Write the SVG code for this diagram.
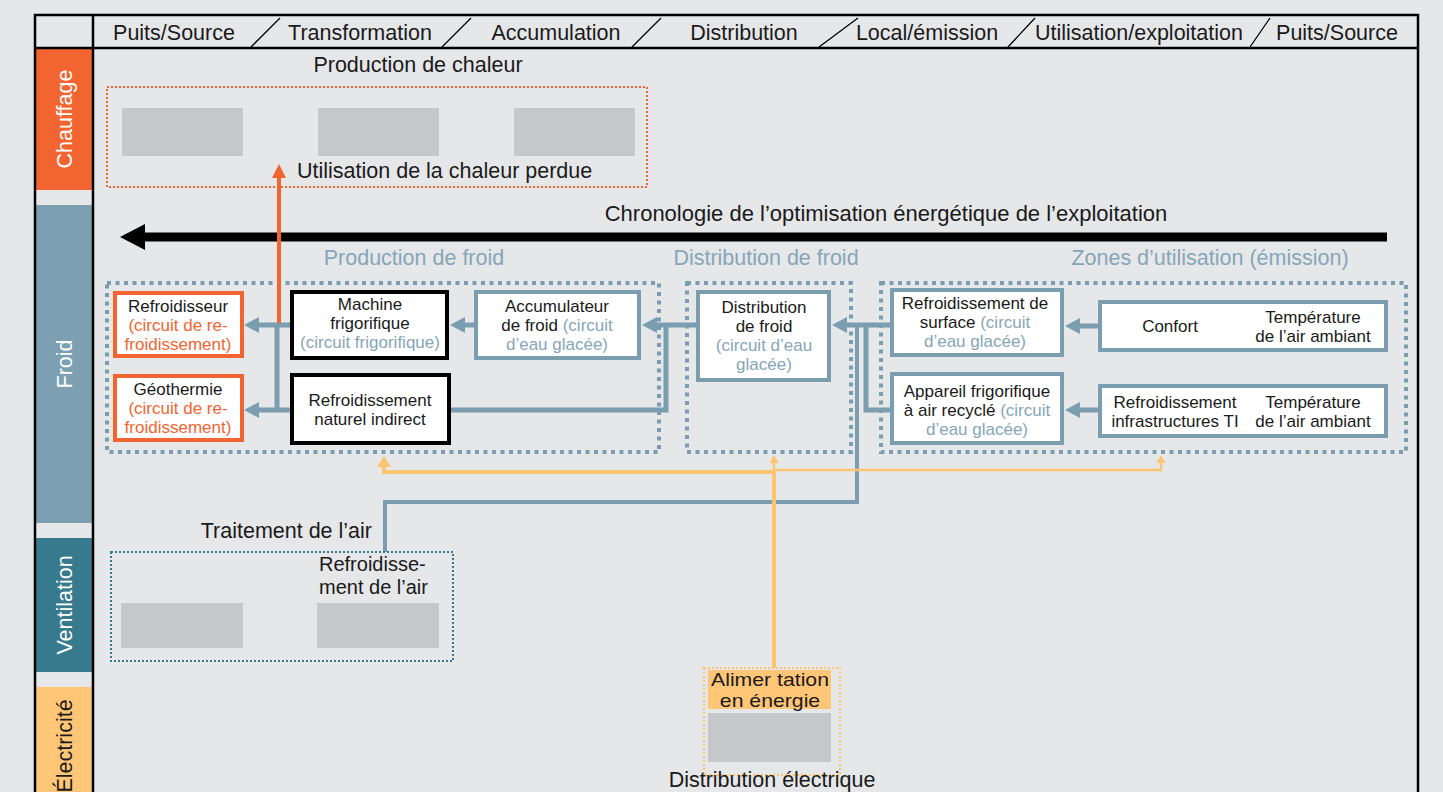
<svg xmlns="http://www.w3.org/2000/svg" width="1443" height="792" viewBox="0 0 1443 792">
<defs>
<style>
text{font-family:"Liberation Sans",Arial,sans-serif;fill:#1a1a1a}
.h{font-size:21.5px;text-anchor:middle}
.t{font-size:21.5px}
.n{font-size:17px;text-anchor:middle}
.b{fill:#86a6b8}
.o{fill:#f26531}
.side{font-size:21.5px;text-anchor:middle;fill:#ffffff}
.grp{fill:none;stroke:#7a9db0;stroke-width:4;stroke-dasharray:4 4.5}
.gr{fill:#c6c7c9}
.nb{fill:#ffffff;stroke:#7a9db0;stroke-width:4}
.no{fill:#ffffff;stroke:#f26531;stroke-width:4}
.nk{fill:#ffffff;stroke:#000000;stroke-width:4}
.c{fill:none;stroke:#7a9db0;stroke-width:5}
.cy{fill:none;stroke:#fdc571;stroke-width:4}
.cys{fill:none;stroke:#fdc571;stroke-width:2.5}
</style>
<marker id="mb" markerUnits="userSpaceOnUse" markerWidth="16" markerHeight="16" refX="0" refY="8" orient="auto"><path d="M0,0 L15,8 L0,16 Z" fill="#7a9db0"/></marker>
<marker id="mo" markerUnits="userSpaceOnUse" markerWidth="14" markerHeight="14" refX="0" refY="7" orient="auto"><path d="M0,0 L14,7 L0,14 Z" fill="#f26531"/></marker>
<marker id="my" markerUnits="userSpaceOnUse" markerWidth="14" markerHeight="14" refX="0" refY="7" orient="auto"><path d="M0,0 L11,7 L0,14 Z" fill="#fdc571"/></marker>
<marker id="mys" markerUnits="userSpaceOnUse" markerWidth="10" markerHeight="10" refX="0" refY="4.5" orient="auto"><path d="M0,0 L8,4.5 L0,9 Z" fill="#fdc571"/></marker>
</defs>
<rect x="0" y="0" width="1443" height="792" fill="#e6e7e9"/>

<g id="frame">
<rect x="36" y="49" width="56" height="141" fill="#f26531"/>
<rect x="36" y="205" width="56" height="318" fill="#7d9fb2"/>
<rect x="36" y="538" width="56" height="134" fill="#377a8e"/>
<rect x="36" y="687" width="56" height="110" fill="#fec676"/>
<path d="M35,800 V15 H1418 V800 M35,48 H1418 M93,15 V800" fill="none" stroke="#000" stroke-width="2.5"/>
<path d="M251,47 L280,18 M442,47 L471,18 M632,47 L661,18 M819,47 L858,18 M1008,47 L1035,18 M1250,47 L1270,18" fill="none" stroke="#000" stroke-width="1.3"/>
<text class="h" x="174" y="40">Puits/Source</text>
<text class="h" x="360" y="40">Transformation</text>
<text class="h" x="556" y="40">Accumulation</text>
<text class="h" x="744" y="40">Distribution</text>
<text class="h" x="927" y="40">Local/émission</text>
<text class="h" x="1139" y="40">Utilisation/exploitation</text>
<text class="h" x="1337" y="40">Puits/Source</text>
<text class="side" transform="translate(72,119) rotate(-90)">Chauffage</text>
<text class="side" transform="translate(72,364) rotate(-90)">Froid</text>
<text class="side" transform="translate(72,605) rotate(-90)">Ventilation</text>
<text class="side" style="fill:#1a1a1a" transform="translate(72,746) rotate(-90)">Électricité</text>
</g>

<g id="chauffage">
<text class="h" x="418" y="72">Production de chaleur</text>
<rect x="107" y="87" width="540" height="100" fill="none" stroke="#f26531" stroke-width="2" stroke-dasharray="2 2"/>
<rect class="gr" x="122" y="108" width="121" height="48"/>
<rect class="gr" x="318" y="108" width="121" height="48"/>
<rect class="gr" x="514" y="108" width="121" height="48"/>
<text class="t" x="297" y="178">Utilisation de la chaleur perdue</text>
</g>

<g id="chronologie">
<text class="h" x="886" y="221" style="font-size:22px">Chronologie de l’optimisation énergétique de l’exploitation</text>
<line x1="1387" y1="237" x2="140" y2="237" stroke="#000" stroke-width="9"/>
<polygon points="120,237 145,224 145,250" fill="#000"/>
</g>

<g id="groupes-froid">
<text class="h b" x="414" y="265">Production de froid</text>
<text class="h b" x="766" y="265">Distribution de froid</text>
<text class="h b" x="1210" y="265">Zones d’utilisation (émission)</text>
<rect class="grp" x="107" y="283" width="552" height="169"/>
<rect class="grp" x="687" y="283" width="164" height="169"/>
<rect class="grp" x="881" y="283" width="525" height="169"/>
</g>

<g id="connecteurs">
<path class="c" d="M476,325 H465" marker-end="url(#mb)"/>
<path class="c" d="M698,325 H657" marker-end="url(#mb)"/>
<path class="c" d="M666,325 V410 H449"/>
<path class="c" d="M292,325 H259" marker-end="url(#mb)"/>
<path class="c" d="M292,410 H259" marker-end="url(#mb)"/>
<path class="c" d="M277,325 V410"/>
<path class="c" d="M892,325 H847" marker-end="url(#mb)"/>
<path class="c" d="M866,325 V410 H892"/>
<path class="c" style="stroke-width:4" d="M857,325 V502 H385 V552"/>
<path class="c" d="M1100,326 H1080" marker-end="url(#mb)"/>
<path class="c" d="M1100,410 H1080" marker-end="url(#mb)"/>
<path fill="none" stroke="#f26531" stroke-width="4" d="M279,323 V178" marker-end="url(#mo)"/>
<path class="cy" d="M774,668 V472"/>
<path class="cys" d="M774,472 V463" marker-end="url(#mys)"/>
<path class="cy" d="M774,472 H384 V467" marker-end="url(#my)"/>
<path class="cys" d="M774,470 H1161 V463" marker-end="url(#mys)"/>
</g>

<g id="refroidisseur">
<rect class="no" x="115" y="293" width="127" height="63"/>
<text class="n" x="178" y="312">Refroidisseur</text>
<text class="n o" x="178" y="331">(circuit de re-</text>
<text class="n o" x="178" y="350">froidissement)</text>
</g>
<g id="geothermie">
<rect class="no" x="115" y="376" width="127" height="64"/>
<text class="n" x="178" y="395">Géothermie</text>
<text class="n o" x="178" y="414">(circuit de re-</text>
<text class="n o" x="178" y="433">froidissement)</text>
</g>
<g id="machine-frigorifique">
<rect class="nk" x="292" y="292" width="155" height="66"/>
<text class="n" x="370" y="310">Machine</text>
<text class="n" x="370" y="329">frigorifique</text>
<text class="n b" x="370" y="348">(circuit frigorifique)</text>
</g>
<g id="refroidissement-naturel">
<rect class="nk" x="292" y="375" width="157" height="68"/>
<text class="n" x="370" y="406">Refroidissement</text>
<text class="n" x="370" y="425">naturel indirect</text>
</g>
<g id="accumulateur">
<rect class="nb" x="476" y="292" width="163" height="66"/>
<text class="n" x="557" y="312">Accumulateur</text>
<text class="n" x="557" y="331">de froid <tspan class="b">(circuit</tspan></text>
<text class="n b" x="557" y="350">d’eau glacée)</text>
</g>
<g id="distribution-froid">
<rect class="nb" x="698" y="292" width="131" height="88"/>
<text class="n" x="764" y="313">Distribution</text>
<text class="n" x="764" y="332">de froid</text>
<text class="n b" x="764" y="351">(circuit d’eau</text>
<text class="n b" x="764" y="370">glacée)</text>
</g>
<g id="refroidissement-surface">
<rect class="nb" x="892" y="290" width="170" height="65"/>
<text class="n" x="975" y="309">Refroidissement de</text>
<text class="n" x="975" y="328">surface <tspan class="b">(circuit</tspan></text>
<text class="n b" x="975" y="347">d’eau glacée)</text>
</g>
<g id="appareil-frigorifique">
<rect class="nb" x="892" y="374" width="170" height="69"/>
<text class="n" x="977" y="397">Appareil frigorifique</text>
<text class="n" x="977" y="416">à air recyclé <tspan class="b">(circuit</tspan></text>
<text class="n b" x="977" y="435">d’eau glacée)</text>
</g>
<g id="confort">
<rect class="nb" x="1100" y="302" width="286" height="48"/>
<text class="n" x="1170" y="332">Confort</text>
<text class="n" x="1313" y="323">Température</text>
<text class="n" x="1313" y="342">de l’air ambiant</text>
</g>
<g id="refroidissement-ti">
<rect class="nb" x="1100" y="386" width="286" height="50"/>
<text class="n" x="1175" y="408">Refroidissement</text>
<text class="n" x="1175" y="427">infrastructures TI</text>
<text class="n" x="1313" y="408">Température</text>
<text class="n" x="1313" y="427">de l’air ambiant</text>
</g>

<g id="ventilation">
<text class="t" x="372" y="538" text-anchor="end">Traitement de l’air</text>
<rect x="111" y="552" width="342" height="109" fill="none" stroke="#377a8e" stroke-width="2" stroke-dasharray="2 2"/>
<text class="t" x="319" y="571" style="font-size:20px">Refroidisse-</text>
<text class="t" x="319" y="594" style="font-size:20px">ment de l’air</text>
<rect class="gr" x="121" y="603" width="122" height="45"/>
<rect class="gr" x="317" y="603" width="122" height="45"/>
</g>

<g id="alimentation">
<rect x="704" y="668" width="136" height="107" fill="none" stroke="#fdc571" stroke-width="2" stroke-dasharray="2 2"/>
<rect x="708" y="670" width="123" height="39" fill="#fec676"/>
<text class="h" style="font-size:18px" transform="translate(770,686) scale(1.18,1)">Alimer tation</text>
<text class="h" style="font-size:18px" transform="translate(770,706.5) scale(1.18,1)">en énergie</text>
<rect class="gr" x="708" y="713" width="123" height="49"/>
<text class="h" x="772" y="787">Distribution électrique</text>
</g>
</svg>
